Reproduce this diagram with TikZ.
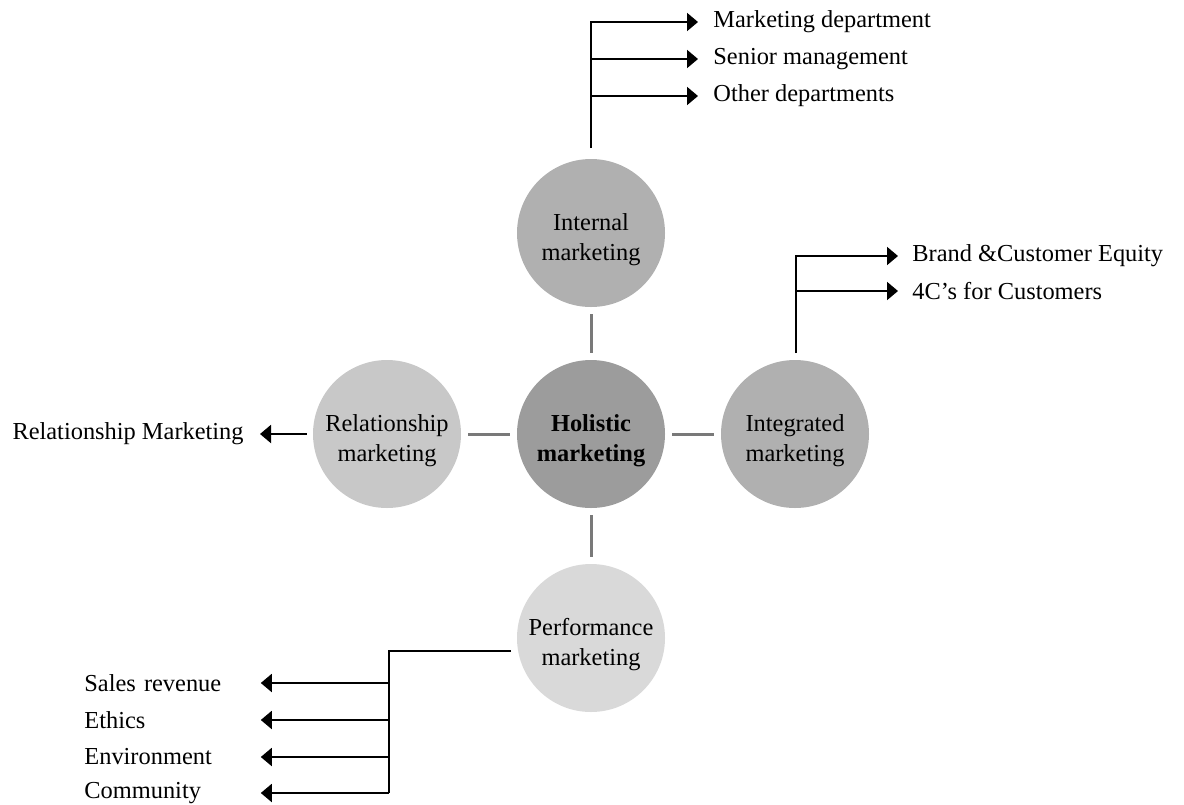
\documentclass[tikz,border=0pt]{standalone}
\usepackage{fontspec}
\setmainfont{Liberation Serif}
\usetikzlibrary{arrows.meta}
\begin{document}
\begin{tikzpicture}[x=0.5pt,y=-0.5pt,
  font=\fontsize{12.2pt}{15pt}\selectfont,
  circ/.style={circle,minimum size=74pt,inner sep=0pt},
  ctext/.style={align=center,yshift=-3.5pt},
  link/.style={draw=gray!95!black,line width=1.5pt,shorten >=3.5pt,shorten <=3.5pt},
  arr/.style={draw=black,line width=1pt,-{Triangle[length=5.5pt,width=9pt]}},
  rtext/.style={anchor=west,inner xsep=7.5pt,inner ysep=0pt},
  ltext/.style={anchor=west,inner xsep=0pt,inner ysep=0pt,text width=88pt,align=left}]
\path[use as bounding box] (0,0) rectangle (1184,804);
% circles
\node[circ,fill={rgb,255:red,176;green,176;blue,176},label={[ctext]center:Internal\\marketing}] (int) at (591,233) {};
\node[circ,fill={rgb,255:red,156;green,156;blue,156},label={[ctext,font=\fontsize{12.2pt}{15pt}\selectfont\bfseries]center:Holistic\\marketing}] (hol) at (591,434) {};
\node[circ,fill={rgb,255:red,176;green,176;blue,176},label={[ctext]center:Integrated\\marketing}] (itg) at (795,434) {};
\node[circ,fill={rgb,255:red,200;green,200;blue,200},label={[ctext]center:Relationship\\marketing}] (rel) at (387,434) {};
\node[circ,fill={rgb,255:red,217;green,217;blue,217},label={[ctext]center:Performance\\marketing}] (per) at (591,638) {};
% links
\draw[link] (int) -- (hol);
\draw[link] (rel) -- (hol);
\draw[link] (hol) -- (itg);
\draw[link] (hol) -- (per);
% internal branch
\node[rtext] (md) at (698,22) {Marketing department};
\node[rtext] (sm) at (698,59) {Senior management};
\node[rtext] (od) at (698,96) {Other departments};
\coordinate (i0) at (591,148);
\draw[arr] (i0) |- (md.west);
\draw[arr] (i0 |- sm.west) -- (sm.west);
\draw[arr] (i0 |- od.west) -- (od.west);
% integrated branch
\node[rtext,inner xsep=7pt] (be) at (898,256) {Brand \&Customer Equity};
\node[rtext,inner xsep=7pt] (fc) at (898,291) {4C’s for Customers};
\coordinate (g0) at (796,353);
\draw[arr] (g0) |- (be.west);
\draw[arr] (g0 |- fc.west) -- (fc.west);
% relationship branch
\node[anchor=east,inner xsep=8pt,inner ysep=0pt] (rm) at (260,434) {Relationship Marketing};
\draw[arr,shorten <=3pt] (rel.west) -- (rm.east);
% performance branch
\node[ltext] (sr) at (84,683) {Sales revenue};
\node[ltext] (et) at (84,720) {Ethics};
\node[ltext] (en) at (84,757) {Environment};
\node[ltext] (co) at (84,793) {Community};
\coordinate (p0) at (511,651);
\coordinate (p1) at (389,651);
\draw[line width=1pt] (p0) -- (p1) -- (p1 |- co.east);
\draw[arr] (p1 |- sr.east) -- (sr.east);
\draw[arr] (p1 |- et.east) -- (et.east);
\draw[arr] (p1 |- en.east) -- (en.east);
\draw[arr] (p1 |- co.east) -- (co.east);
\end{tikzpicture}
\end{document}
